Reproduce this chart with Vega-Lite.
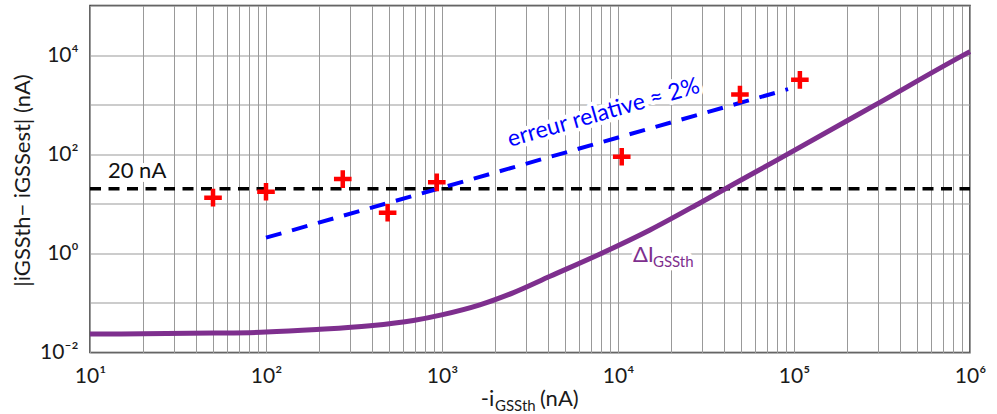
{
  "$schema": "https://vega.github.io/schema/vega-lite/v6.json",
  "width": 880,
  "height": 347,
  "autosize": {"type": "none"},
  "padding": {"left": 90, "top": 5.5, "right": 27, "bottom": 61.5},
  "background": "white",
  "config": {
    "view": {"stroke": "#333333", "strokeWidth": 1.5},
    "font": "Lato",
    "axis": {
      "labelFont": "Lato", "labelFontSize": 21, "labelColor": "#1a1a1a",
      "titleFont": "Lato", "titleFontSize": 22, "titleFontWeight": "normal", "titleColor": "#1a1a1a",
      "gridColor": "#999999", "gridWidth": 1, "gridOpacity": 1,
      "ticks": false, "tickSize": 0, "domain": false,
      "labelOverlap": false, "labelFlush": false, "labelBound": false
    }
  },
  "datasets": {
    "curve": [
      {"x": 10, "y": 0.0235}, {"x": 20, "y": 0.0238}, {"x": 50, "y": 0.0246}, {"x": 100, "y": 0.0258},
      {"x": 194, "y": 0.029}, {"x": 390, "y": 0.0345}, {"x": 687, "y": 0.0442}, {"x": 995, "y": 0.0574},
      {"x": 1640, "y": 0.0914}, {"x": 2530, "y": 0.16}, {"x": 4110, "y": 0.345}, {"x": 7910, "y": 0.97},
      {"x": 15200, "y": 2.96}, {"x": 29200, "y": 10.4}, {"x": 45000, "y": 24.5}, {"x": 80000, "y": 76},
      {"x": 295000, "y": 1023}, {"x": 975000, "y": 11200}, {"x": 1000000, "y": 11750}
    ],
    "measures": [
      {"x": 50, "y": 13.3}, {"x": 100, "y": 17.5}, {"x": 273, "y": 31.5}, {"x": 491, "y": 6.6},
      {"x": 934, "y": 27.1}, {"x": 10500, "y": 88.7}, {"x": 49300, "y": 1600}, {"x": 108000, "y": 3160}
    ],
    "trend": [{"x": 100, "y": 2.07}, {"x": 92500, "y": 2050}],
    "limit": [{"x": 10, "y": 20}, {"x": 1000000, "y": 20}]
  },
  "encoding": {
    "x": {
      "field": "x", "type": "quantitative",
      "scale": {"type": "log", "domain": [10, 1000000], "nice": false},
      "axis": {
        "title": null,
        "values": [10,20,30,40,50,60,70,80,90,100,200,300,400,500,600,700,800,900,1000,2000,3000,4000,5000,6000,7000,8000,9000,10000,20000,30000,40000,50000,60000,70000,80000,90000,100000,200000,300000,400000,500000,600000,700000,800000,900000,1000000],
        "labelExpr": "datum.value == 10 ? '10¹' : datum.value == 100 ? '10²' : datum.value == 1000 ? '10³' : datum.value == 10000 ? '10⁴' : datum.value == 100000 ? '10⁵' : datum.value == 1000000 ? '10⁶' : ''",
        "labelPadding": 13
      }
    },
    "y": {
      "field": "y", "type": "quantitative",
      "scale": {"type": "log", "domain": [0.01, 100000], "nice": false},
      "axis": {
        "values": [0.01, 0.1, 1, 10, 100, 1000, 10000, 100000],
        "labelExpr": "datum.value == 0.01 ? '10⁻²' : datum.value == 1 ? '10⁰' : datum.value == 100 ? '10²' : datum.value == 10000 ? '10⁴' : ''",
        "labelPadding": 12,
        "title": "|iGSSth− iGSSest| (nA)",
        "titleX": -68, "titleY": 174.5, "titleAngle": 270, "titleAlign": "center", "titleBaseline": "middle"
      }
    }
  },
  "layer": [
    {"data": {"values": [{"x": 12.65, "y": 33, "label": "20 nA"}]},
     "mark": {"type": "text", "align": "left", "baseline": "alphabetic", "fontSize": 22, "fill": "white", "stroke": "white", "strokeWidth": 8, "strokeJoin": "round"},
     "encoding": {"text": {"field": "label"}}},
    {"data": {"values": [{"x": 8500, "y": 500, "label": "erreur relative ≈ 2%"}]},
     "mark": {"type": "text", "align": "center", "baseline": "alphabetic", "angle": 344, "fontSize": 23, "fill": "white", "stroke": "white", "strokeWidth": 8, "strokeJoin": "round"},
     "encoding": {"text": {"field": "label"}}},
    {"data": {"values": [{"x": 12160, "y": 0.681, "label": "ΔI"}]},
     "mark": {"type": "text", "align": "left", "baseline": "alphabetic", "fontSize": 22, "fill": "white", "stroke": "white", "strokeWidth": 8, "strokeJoin": "round"},
     "encoding": {"text": {"field": "label"}}},
    {"data": {"values": [{"x": 15800, "y": 0.525, "label": "GSSth"}]},
     "mark": {"type": "text", "align": "left", "baseline": "alphabetic", "fontSize": 15, "fill": "white", "stroke": "white", "strokeWidth": 8, "strokeJoin": "round"},
     "encoding": {"text": {"field": "label"}}},
    {"data": {"name": "limit"},
     "mark": {"type": "line", "color": "#000000", "strokeWidth": 3.5, "strokeDash": [11, 7.5]},
     "encoding": {}},
    {"data": {"name": "trend"},
     "mark": {"type": "line", "color": "#0000ff", "strokeWidth": 4, "strokeDash": [16, 11]},
     "encoding": {}},
    {"data": {"name": "curve"},
     "mark": {"type": "line", "color": "#7e2f8e", "strokeWidth": 5, "interpolate": "monotone"},
     "encoding": {}},
    {"data": {"name": "measures"},
     "mark": {"type": "point", "shape": "M-1,0L1,0M0,-1L0,1", "filled": false, "stroke": "#ff0000", "strokeWidth": 4.5, "size": 310, "opacity": 1, "strokeCap": "butt"},
     "encoding": {}},
    {"data": {"values": [{"x": 12.65, "y": 33, "label": "20 nA"}]},
     "mark": {"type": "text", "align": "left", "baseline": "alphabetic", "fontSize": 22, "color": "#111111"},
     "encoding": {"text": {"field": "label"}}},
    {"data": {"values": [{"x": 8500, "y": 500, "label": "erreur relative ≈ 2%"}]},
     "mark": {"type": "text", "align": "center", "baseline": "alphabetic", "angle": 344, "fontSize": 23, "color": "#0000ff"},
     "encoding": {"text": {"field": "label"}}},
    {"data": {"values": [{"x": 12160, "y": 0.681, "label": "ΔI"}]},
     "mark": {"type": "text", "align": "left", "baseline": "alphabetic", "fontSize": 22, "color": "#7e2f8e"},
     "encoding": {"text": {"field": "label"}}},
    {"data": {"values": [{"x": 15800, "y": 0.525, "label": "GSSth"}]},
     "mark": {"type": "text", "align": "left", "baseline": "alphabetic", "fontSize": 15, "color": "#7e2f8e"},
     "encoding": {"text": {"field": "label"}}},
    {"data": {"values": [{"x": 1660, "y": 0.000817, "label": "-i"}]},
     "mark": {"type": "text", "align": "left", "baseline": "alphabetic", "fontSize": 22, "color": "#1a1a1a"},
     "encoding": {"text": {"field": "label"}}},
    {"data": {"values": [{"x": 2000, "y": 0.000648, "label": "GSSth"}]},
     "mark": {"type": "text", "align": "left", "baseline": "alphabetic", "fontSize": 15, "color": "#1a1a1a"},
     "encoding": {"text": {"field": "label"}}},
    {"data": {"values": [{"x": 3600, "y": 0.000817, "label": "(nA)"}]},
     "mark": {"type": "text", "align": "left", "baseline": "alphabetic", "fontSize": 22, "color": "#1a1a1a"},
     "encoding": {"text": {"field": "label"}}}
  ]
}
